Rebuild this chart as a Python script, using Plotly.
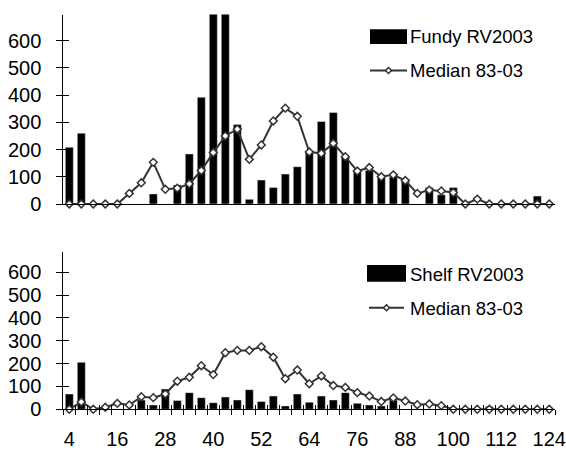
import plotly.graph_objects as go

# ---------------- data ----------------
lengths = list(range(4, 125, 3))  # 4,7,...,124
tick_labels = list(range(4, 125, 12))
y_ticks = [0, 100, 200, 300, 400, 500, 600]

fundy_rv2003 = [208, 260, 0, 0, 0, 0, 0, 37, 0, 70, 184, 392, 780, 760, 292, 17,
                88, 61, 110, 137, 196, 303, 336, 176, 123, 123, 107, 100, 92, 0,
                61, 34, 61, 0, 0, 0, 0, 0, 0, 29, 0]
fundy_median = [0, 0, 0, 0, 0, 39, 78, 153, 54, 58, 74, 123, 189, 250, 275, 164,
                217, 305, 352, 322, 191, 186, 223, 174, 121, 134, 100, 107, 86, 39,
                51, 48, 42, 0, 18, 0, 0, 0, 0, 0, 0]
shelf_rv2003 = [67, 206, 0, 15, 0, 0, 41, 19, 89, 38, 73, 51, 29, 54, 41, 86,
                34, 58, 15, 67, 31, 58, 41, 73, 26, 19, 15, 41, 0, 0,
                0, 0, 0, 0, 0, 12, 0, 0, 0, 0, 0]
shelf_median = [0, 32, 0, 9, 26, 19, 55, 51, 67, 123, 140, 191, 152, 248, 258, 258,
                274, 228, 134, 172, 112, 146, 104, 96, 73, 58, 34, 50, 36, 20,
                23, 16, 0, 0, 0, 0, 0, 0, 0, 0, 0]

legend_top = ["Fundy RV2003", "Median 83-03"]
legend_bottom = ["Shelf RV2003", "Median 83-03"]

# ---------------- layout helpers ----------------
W, H = 566, 451
FONT = "Liberation Sans, Arial, sans-serif"
step = lengths[1] - lengths[0]
boundaries = [lengths[0] - step / 2 + step * k for k in range(len(lengths) + 1)]


def px(x):
    return x / W


def py(y):
    return 1 - y / H


xdom = [px(63.3), px(555.3)]
top_dom = [py(204), py(14.5)]
bot_dom = [py(409.3), py(252.3)]
xrange_ = [boundaries[0], boundaries[-1]]

line_col = "#333333"
marker_style = dict(symbol="diamond", size=6, color="white",
                    line=dict(color=line_col, width=1.5))

fig = go.Figure()

# top panel
fig.add_trace(go.Bar(x=lengths, y=fundy_rv2003, marker_color="black",
                     xaxis="x", yaxis="y", showlegend=False, name=legend_top[0]))
fig.add_trace(go.Scatter(x=lengths, y=fundy_median, mode="lines+markers",
                         line=dict(color=line_col, width=2), marker=marker_style,
                         cliponaxis=False, xaxis="x", yaxis="y",
                         showlegend=False, name=legend_top[1]))
# bottom panel
fig.add_trace(go.Bar(x=lengths, y=shelf_rv2003, marker_color="black",
                     xaxis="x2", yaxis="y2", showlegend=False, name=legend_bottom[0]))
fig.add_trace(go.Scatter(x=lengths, y=shelf_median, mode="lines+markers",
                         line=dict(color=line_col, width=2), marker=marker_style,
                         cliponaxis=False, xaxis="x2", yaxis="y2",
                         showlegend=False, name=legend_bottom[1]))
# dummy traces for overlay axes (inner halves of crossing ticks)
for xa, ya in [("x", "y3"), ("x2", "y4"), ("x3", "y2")]:
    fig.add_trace(go.Scatter(x=[None], y=[None], xaxis=xa, yaxis=ya,
                             showlegend=False, hoverinfo="skip"))

ax_common = dict(showgrid=False, zeroline=False, showline=True,
                 linecolor="black", linewidth=1, automargin=False,
                 tickfont=dict(family=FONT, size=20, color="black"))

fig.update_layout(
    width=W, height=H,
    margin=dict(l=0, r=0, t=0, b=0),
    paper_bgcolor="white", plot_bgcolor="white",
    bargap=0.33,
    font=dict(family=FONT, color="black"),
    xaxis=dict(domain=xdom, range=xrange_, anchor="y", showticklabels=False,
               ticks="", **ax_common),
    yaxis=dict(domain=top_dom, range=[0, 696], anchor="x", tickmode="array",
               tickvals=y_ticks, ticks="outside", ticklen=6, tickcolor="black",
               ticklabelstandoff=11, **ax_common),
    yaxis3=dict(overlaying="y", range=[0, 696], anchor="x", side="left",
                tickmode="array", tickvals=y_ticks, ticks="inside", ticklen=6,
                tickcolor="black", showticklabels=False, showline=False,
                showgrid=False, zeroline=False),
    xaxis2=dict(domain=xdom, range=xrange_, anchor="y2", tickmode="array",
                tickvals=tick_labels, ticks="", ticklabelstandoff=12,
                minor=dict(tickmode="array", tickvals=boundaries, ticks="outside",
                           ticklen=5, tickcolor="black"),
                **ax_common),
    xaxis3=dict(overlaying="x2", range=xrange_, anchor="y2", tickmode="array",
                tickvals=boundaries, ticks="inside", ticklen=4, tickcolor="black",
                showticklabels=False, showline=False, showgrid=False, zeroline=False),
    yaxis2=dict(domain=bot_dom, range=[0, 687.6], anchor="x2", tickmode="array",
                tickvals=y_ticks, ticks="outside", ticklen=6, tickcolor="black",
                ticklabelstandoff=11, **ax_common),
    yaxis4=dict(overlaying="y2", range=[0, 687.6], anchor="x2", side="left",
                tickmode="array", tickvals=y_ticks, ticks="inside", ticklen=6,
                tickcolor="black", showticklabels=False, showline=False,
                showgrid=False, zeroline=False),
)

# ---------------- manual legends ----------------
shapes = []
annotations = []


def add_legend(labels, rect, line_y, line_x, text_x, text_y):
    x0, y0, x1, y1 = rect
    shapes.append(dict(type="rect", xref="paper", yref="paper",
                       x0=px(x0), x1=px(x1), y0=py(y1), y1=py(y0),
                       fillcolor="black", line=dict(width=0)))
    shapes.append(dict(type="line", xref="paper", yref="paper",
                       x0=px(line_x[0]), x1=px(line_x[1]), y0=py(line_y), y1=py(line_y),
                       line=dict(color=line_col, width=2)))
    cx = (line_x[0] + line_x[1]) / 2
    shapes.append(dict(type="path", xref="paper", yref="paper",
                       path="M {} {} L {} {} L {} {} L {} {} Z".format(
                           px(cx - 3), py(line_y), px(cx), py(line_y - 3),
                           px(cx + 3), py(line_y), px(cx), py(line_y + 3)),
                       fillcolor="white", line=dict(color=line_col, width=1.5)))
    for lab, ty in zip(labels, text_y):
        annotations.append(dict(text=lab, xref="paper", yref="paper",
                                x=px(text_x), y=py(ty), xanchor="left",
                                yanchor="middle", showarrow=False,
                                font=dict(family=FONT, size=18.5, color="black")))


add_legend(legend_top, (370, 29.3, 407, 44), 70.5, (370, 407), 408, [36.5, 70])
add_legend(legend_bottom, (367, 265, 406, 281.7), 307.7, (369, 404), 407.5, [274, 308])

fig.update_layout(shapes=shapes, annotations=annotations)

fig.write_html("out.html")
